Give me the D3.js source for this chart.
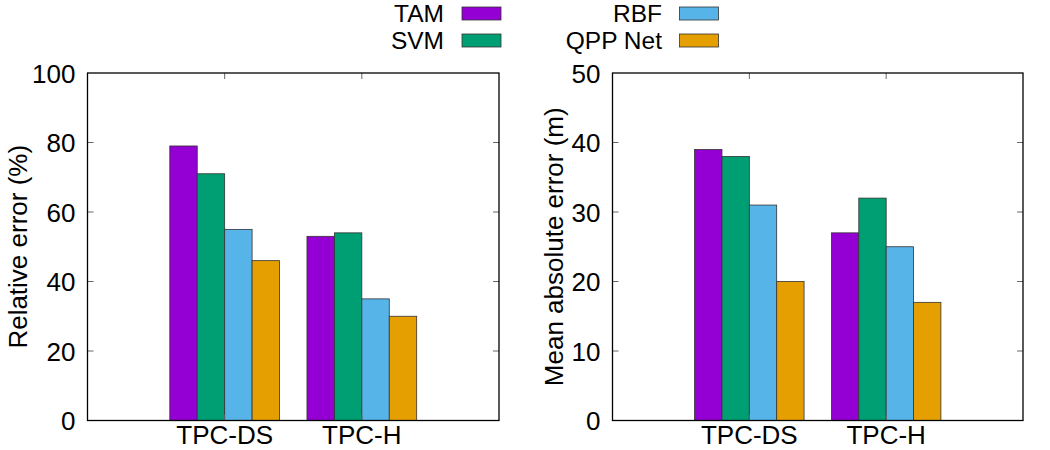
<!DOCTYPE html>
<html lang="en">
<head>
    <meta charset="UTF-8">
    <title>Error comparison</title>
    <script src="https://cdn.jsdelivr.net/npm/d3@7"></script>
    <style>
        body { margin: 0; background: #fff; }
        svg text {
            font-family: "Liberation Sans", Arial, sans-serif;
            fill: #000;
        }
        .frame { fill: none; stroke: #000; stroke-width: 1.3px; }
        .tick-line { stroke: #666; stroke-width: 1px; }
        .bar { stroke: #333; stroke-width: 0.8px; }
    </style>
</head>
<body>
    <svg width="1050" height="450"></svg>

    <script>
        // Data
        const categories = ["TPC-DS", "TPC-H"];
        const series = ["TAM", "SVM", "RBF", "QPP Net"];
        const colors = ["#9400d3", "#009e73", "#56b4e9", "#e69f00"];

        // relative error (%) per series, [TPC-DS, TPC-H]
        const relError = {
            "TAM": [79, 53],
            "SVM": [71, 54],
            "RBF": [55, 35],
            "QPP Net": [46, 30]
        };
        // mean absolute error (m) per series
        const maeError = {
            "TAM": [39, 27],
            "SVM": [38, 32],
            "RBF": [31, 25],
            "QPP Net": [20, 17]
        };
        const relTicks = [0, 20, 40, 60, 80, 100];
        const maeTicks = [0, 10, 20, 30, 40, 50];

        const svg = d3.select("svg");
        const color = d3.scaleOrdinal().domain(series).range(colors);

        const plotTop = 73, plotBottom = 420.5;
        const barW = 0.2; // in category units
        const fontSize = 26;

        function panel(left, right, values, yMax, yTicks, yLabel, labelX) {
            // gnuplot-style histogram: categories at 0,1 and x range [-1, 2]
            const x = d3.scaleLinear().domain([-1, 2]).range([left, right]);
            const y = d3.scaleLinear().domain([0, yMax]).range([plotBottom, plotTop]);
            const g = svg.append("g");

            // bars
            series.forEach((s, si) => {
                g.selectAll(null)
                    .data(values[s])
                    .enter().append("rect")
                    .attr("class", "bar")
                    .attr("x", (d, i) => x(i - 2 * barW + si * barW))
                    .attr("width", x(barW) - x(0))
                    .attr("y", d => y(d))
                    .attr("height", d => y(0) - y(d))
                    .attr("fill", color(s));
            });

            // y ticks (mirrored)
            yTicks.forEach(t => {
                if (t === 0 || t === yMax) return;
                g.append("line").attr("class", "tick-line")
                    .attr("x1", left).attr("x2", left + 6)
                    .attr("y1", y(t)).attr("y2", y(t));
                g.append("line").attr("class", "tick-line")
                    .attr("x1", right).attr("x2", right - 6)
                    .attr("y1", y(t)).attr("y2", y(t));
            });
            g.selectAll(null)
                .data(yTicks)
                .enter().append("text")
                .attr("x", left - 12)
                .attr("y", d => y(d) + 9.5)
                .attr("text-anchor", "end")
                .style("font-size", fontSize + "px")
                .text(d => d);

            // x ticks (mirrored on top)
            categories.forEach((c, i) => {
                g.append("line").attr("class", "tick-line")
                    .attr("x1", x(i)).attr("x2", x(i))
                    .attr("y1", plotTop).attr("y2", plotTop + 6);
                g.append("line").attr("class", "tick-line")
                    .attr("x1", x(i)).attr("x2", x(i))
                    .attr("y1", plotBottom).attr("y2", plotBottom - 6);
            });
            g.selectAll(null)
                .data(categories)
                .enter().append("text")
                .attr("x", (d, i) => x(i))
                .attr("y", 443.5)
                .attr("text-anchor", "middle")
                .style("font-size", fontSize + "px")
                .text(d => d);

            // frame
            g.append("rect").attr("class", "frame")
                .attr("x", left).attr("y", plotTop)
                .attr("width", right - left).attr("height", plotBottom - plotTop);

            // y label
            g.append("text")
                .attr("transform", `translate(${labelX},${(plotTop + plotBottom) / 2}) rotate(-90)`)
                .attr("text-anchor", "middle")
                .style("font-size", fontSize + "px")
                .text(yLabel);
        }

        panel(87.5, 499, relError, 100, relTicks, "Relative error (%)", 27);
        panel(612.5, 1023, maeError, 50, maeTicks, "Mean absolute error (m)", 563);

        // legend, two columns
        const legendPos = [
            { tx: 444, sx: 462, cy: 13.5 },
            { tx: 444, sx: 462, cy: 40.5 },
            { tx: 662, sx: 679.5, cy: 13.5 },
            { tx: 662, sx: 679.5, cy: 40.5 }
        ];
        const legend = svg.append("g");
        const items = legend.selectAll("g")
            .data(series)
            .enter().append("g");
        items.append("text")
            .attr("x", (d, i) => legendPos[i].tx)
            .attr("y", (d, i) => legendPos[i].cy + 8.5)
            .attr("text-anchor", "end")
            .style("font-size", "24.5px")
            .text(d => d);
        items.append("rect")
            .attr("class", "bar")
            .attr("x", (d, i) => legendPos[i].sx)
            .attr("y", (d, i) => legendPos[i].cy - 6.5)
            .attr("width", 39)
            .attr("height", 13)
            .attr("fill", d => color(d));
    </script>
</body>
</html>
